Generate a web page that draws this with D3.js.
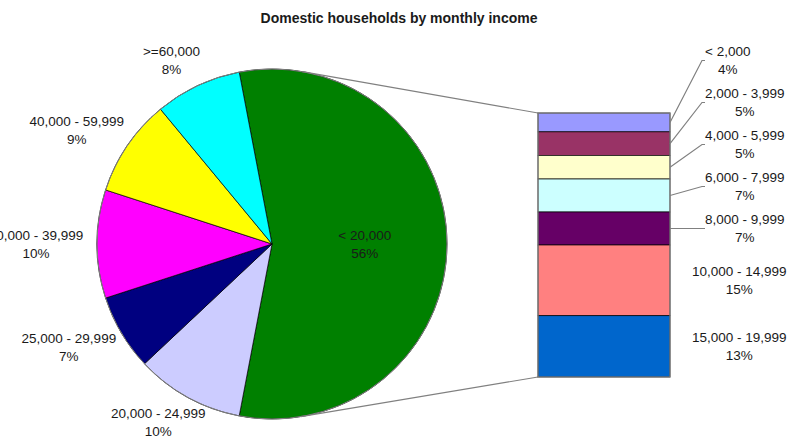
<!DOCTYPE html>
<html>
<head>
<meta charset="utf-8">
<script src="https://cdn.jsdelivr.net/npm/d3@7/dist/d3.min.js"></script>
<style>
  body { margin: 0; background: #fff; }
  text { font-family: Arial, "Liberation Sans", sans-serif; fill: #1a1a1a; }
</style>
</head>
<body>
<svg></svg>
<script>
// pie data (first slice is the one split out into the bar)
var pieLabels = ["< 20,000", "20,000 - 24,999", "25,000 - 29,999", "30,000 - 39,999", "40,000 - 59,999", ">=60,000"];
var pieValues = [56, 10, 7, 10, 9, 8];
var pieColors = ["#008000", "#CCCCFF", "#000080", "#FF00FF", "#FFFF00", "#00FFFF"];

// bar data (breakdown of "< 20,000")
var barLabels = ["< 2,000", "2,000 - 3,999", "4,000 - 5,999", "6,000 - 7,999", "8,000 - 9,999", "10,000 - 14,999", "15,000 - 19,999"];
var barValues = [4, 5, 5, 7, 7, 15, 13];
var barColors = ["#9999FF", "#993366", "#FFFFCC", "#CCFFFF", "#660066", "#FF8080", "#0066CC"];

var title = "Domestic households by monthly income";

var width = 792, height = 443;
var cx = 272, cy = 244, r = 175;
var bar = {left: 538, right: 670, top: 113, bottom: 377};

var svg = d3.select("svg").attr("width", width).attr("height", height);

// title
svg.append("text")
  .attr("x", 399).attr("y", 23)
  .attr("text-anchor", "middle")
  .style("font-size", "14px").style("font-weight", "bold")
  .text(title);

// pie, split slice centred on the right side
var total = d3.sum(pieValues);
var start = Math.PI / 2 - (pieValues[0] / total) * Math.PI;
var pie = d3.pie().sort(null).startAngle(start).endAngle(start + 2 * Math.PI);
var arcs = pie(pieValues);
var arc = d3.arc().innerRadius(0).outerRadius(r);

var g = svg.append("g").attr("transform", "translate(" + cx + "," + cy + ")");

// series lines from bar corners, tangent to the pie
function tangent(px, py, upper) {
  var dx = px - cx, dy = py - cy;
  var d = Math.sqrt(dx * dx + dy * dy);
  var base = Math.atan2(dy, dx);
  var off = Math.acos(r / d);
  var a = upper ? base - off : base + off;
  return [cx + r * Math.cos(a), cy + r * Math.sin(a)];
}
var t1 = tangent(bar.left, bar.top, true);
var t2 = tangent(bar.left, bar.bottom, false);
svg.append("path")
  .attr("d", "M" + t1[0] + "," + t1[1] + "L" + bar.left + "," + bar.top)
  .attr("stroke", "#808080").attr("fill", "none").attr("stroke-width", 1.2);
svg.append("path")
  .attr("d", "M" + t2[0] + "," + t2[1] + "L" + bar.left + "," + bar.bottom)
  .attr("stroke", "#808080").attr("fill", "none").attr("stroke-width", 1.2);

g.selectAll("path.slice")
  .data(arcs)
  .enter().append("path")
  .attr("class", "slice")
  .attr("d", arc)
  .attr("fill", function(d, i) { return pieColors[i]; })
  .attr("stroke", "#000")
  .attr("stroke-width", 0.7)
  .attr("stroke-linejoin", "round");

// grey rim
g.append("circle").attr("r", r).attr("fill", "none").attr("stroke", "#808080").attr("stroke-width", 1);

// pie labels
function twoLines(sel, x, y, a, b) {
  var t = sel.append("text").attr("text-anchor", "middle").style("font-size", "13.5px");
  t.append("tspan").attr("x", x).attr("y", y - 9).attr("dy", "0.35em").text(a);
  t.append("tspan").attr("x", x).attr("y", y + 9).attr("dy", "0.35em").text(b);
  return t;
}
arcs.forEach(function(d, i) {
  var mid = (d.startAngle + d.endAngle) / 2;
  var pct = Math.round(d.value / total * 100) + "%";
  if (i == 0) {
    var c = d3.arc().innerRadius(0).outerRadius(r * 1.06).centroid(d);
    twoLines(svg, cx + c[0], cy + c[1], pieLabels[i], pct);
  } else {
    var lx = cx + 236 * Math.sin(mid);
    var ly = cy - 203 * Math.cos(mid);
    twoLines(svg, lx, ly, pieLabels[i], pct);
  }
});

// stacked bar
var y = d3.scaleLinear().domain([0, d3.sum(barValues)]).range([bar.top, bar.bottom]);
var cum = 0;
var segs = barValues.map(function(v, i) {
  var s = {i: i, y0: y(cum), y1: y(cum + v), v: v};
  cum += v;
  return s;
});

svg.selectAll("rect.seg")
  .data(segs)
  .enter().append("rect")
  .attr("class", "seg")
  .attr("x", bar.left)
  .attr("y", function(d) { return d.y0; })
  .attr("width", bar.right - bar.left)
  .attr("height", function(d) { return d.y1 - d.y0; })
  .attr("fill", function(d) { return barColors[d.i]; })
  .attr("stroke", "#000")
  .attr("stroke-width", 0.7);
svg.append("rect")
  .attr("x", bar.left).attr("y", bar.top)
  .attr("width", bar.right - bar.left).attr("height", bar.bottom - bar.top)
  .attr("fill", "none").attr("stroke", "#808080").attr("stroke-width", 1.2);

// bar labels: small segments get pushed out with leader lines
var blockH = 36, gap = 42;
segs.forEach(function(s) {
  s.mid = (s.y0 + s.y1) / 2;
  s.ly = s.mid;
  s.leader = (s.y1 - s.y0) < blockH + 4;
});
for (var k = segs.length - 2; k >= 0; k--) {
  if (segs[k + 1].ly - segs[k].ly < gap) segs[k].ly = segs[k + 1].ly - gap;
}
segs.forEach(function(s) {
  var left = s.leader ? 705 : 692;
  var pct = Math.round(s.v / total * 100) + "%";
  var t = twoLines(svg, 0, s.ly, barLabels[s.i], pct);
  var w = 0;
  t.selectAll("tspan").each(function() { w = Math.max(w, this.getComputedTextLength()); });
  t.selectAll("tspan").attr("x", left + w / 2);
  if (s.leader) {
    svg.append("path")
      .attr("d", "M" + bar.right + "," + s.mid + "L" + (left - 3) + "," + s.ly + "L" + left + "," + s.ly)
      .attr("stroke", "#808080").attr("fill", "none").attr("stroke-width", 1.2);
  }
});
</script>
</body>
</html>
